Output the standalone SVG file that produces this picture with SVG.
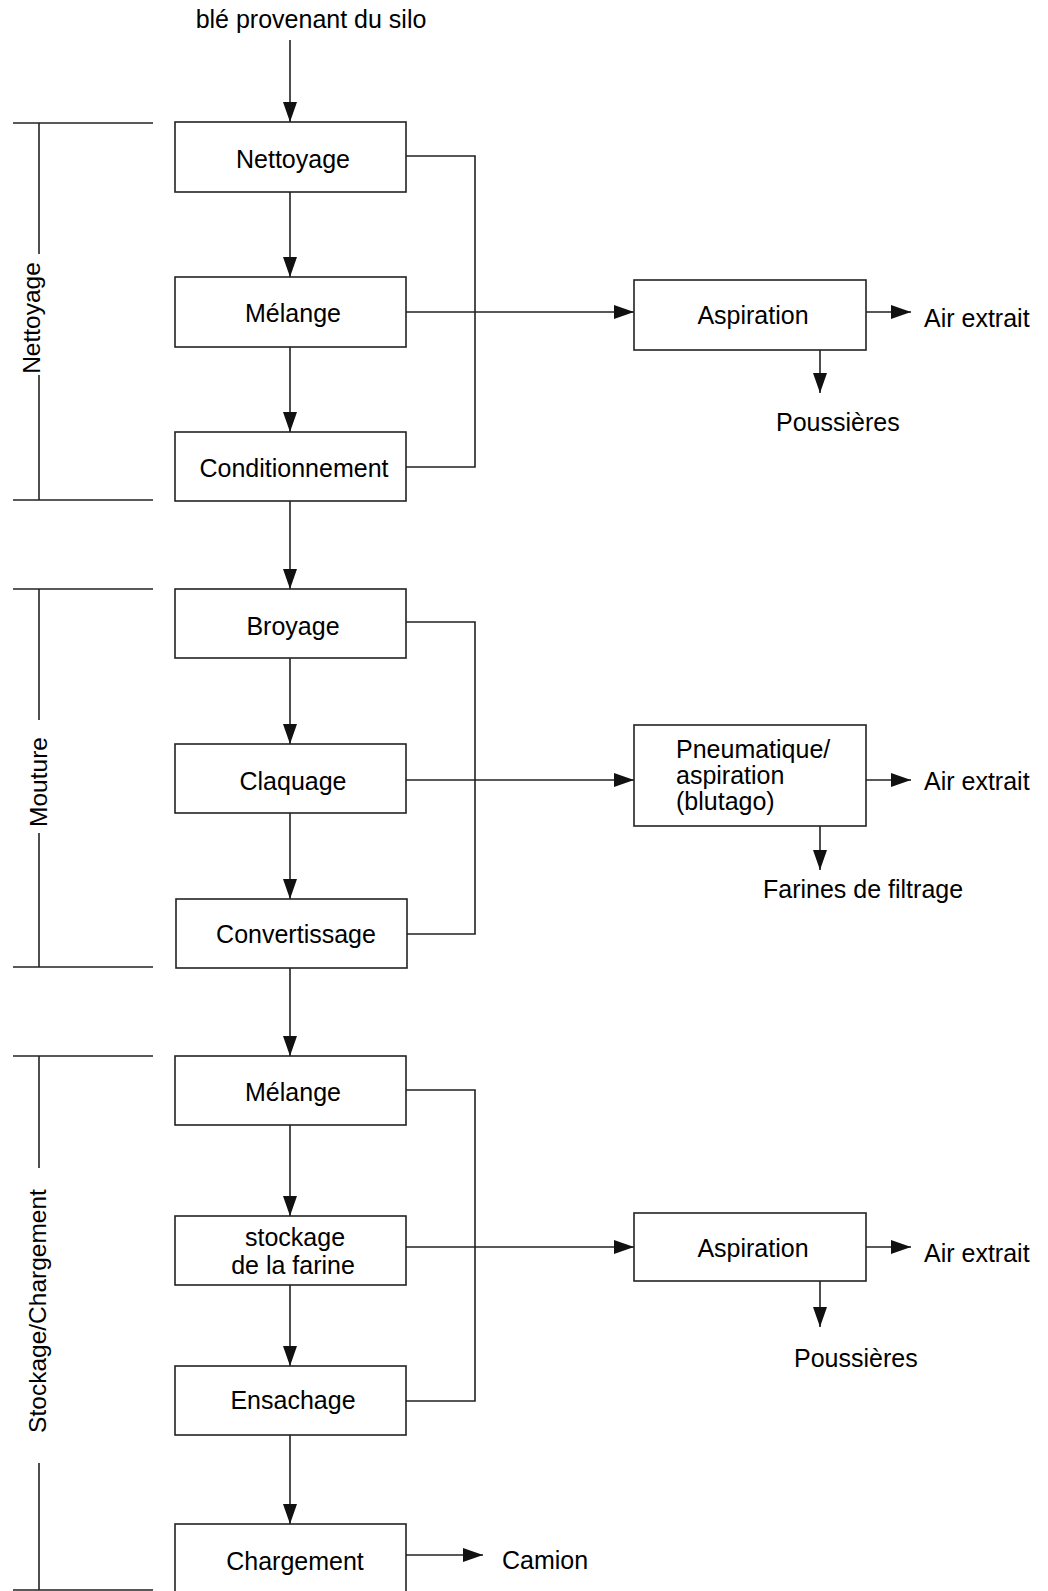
<svg xmlns="http://www.w3.org/2000/svg" width="1048" height="1591" viewBox="0 0 1048 1591">
<style>
  .box { fill: #fff; stroke: #222; stroke-width: 1.6; }
  .ln { fill: none; stroke: #222; stroke-width: 1.6; }
  .arr { fill: none; stroke: #222; stroke-width: 1.6; marker-end: url(#ah); }
  text { font-family: "Liberation Sans", Arial, sans-serif; font-size: 25px; fill: #000; }
  .c { text-anchor: middle; }
  .v { font-size: 24.5px; text-anchor: middle; }
</style>
<defs>
  <marker id="ah" markerUnits="userSpaceOnUse" markerWidth="20" markerHeight="14" refX="20" refY="7" orient="auto">
    <path d="M0,0 L20,7 L0,14 z" fill="#111"/>
  </marker>
</defs>
<rect width="1048" height="1591" fill="#fff"/>

<g id="brackets">
  <line class="ln" x1="13" y1="123" x2="153" y2="123"/>
  <line class="ln" x1="13" y1="500" x2="153" y2="500"/>
  <line class="ln" x1="39" y1="123" x2="39" y2="254"/>
  <line class="ln" x1="39" y1="375" x2="39" y2="500"/>
  <text class="v" transform="translate(40,318) rotate(-90)">Nettoyage</text>
  <line class="ln" x1="13" y1="589" x2="153" y2="589"/>
  <line class="ln" x1="13" y1="967" x2="153" y2="967"/>
  <line class="ln" x1="39" y1="589" x2="39" y2="720"/>
  <line class="ln" x1="39" y1="833" x2="39" y2="967"/>
  <text class="v" transform="translate(47,782) rotate(-90)">Mouture</text>
  <line class="ln" x1="13" y1="1056" x2="153" y2="1056"/>
  <line class="ln" x1="13" y1="1590" x2="153" y2="1590"/>
  <line class="ln" x1="39" y1="1056" x2="39" y2="1168"/>
  <line class="ln" x1="39" y1="1463" x2="39" y2="1590"/>
  <text class="v" transform="translate(46,1311) rotate(-90)">Stockage/Chargement</text>
</g>

<g id="connectors">
  <line class="arr" x1="290" y1="40" x2="290" y2="122"/>
  <line class="arr" x1="290" y1="192" x2="290" y2="277"/>
  <line class="arr" x1="290" y1="347" x2="290" y2="432"/>
  <line class="arr" x1="290" y1="501" x2="290" y2="589"/>
  <line class="arr" x1="290" y1="658" x2="290" y2="744"/>
  <line class="arr" x1="290" y1="813" x2="290" y2="899"/>
  <line class="arr" x1="290" y1="968" x2="290" y2="1056"/>
  <line class="arr" x1="290" y1="1125" x2="290" y2="1216"/>
  <line class="arr" x1="290" y1="1285" x2="290" y2="1366"/>
  <line class="arr" x1="290" y1="1435" x2="290" y2="1524"/>

  <polyline class="ln" points="406,156 475,156 475,467 406,467"/>
  <line class="arr" x1="406" y1="312" x2="634" y2="312"/>
  <polyline class="ln" points="406,622 475,622 475,934 407,934"/>
  <line class="arr" x1="406" y1="780" x2="634" y2="780"/>
  <polyline class="ln" points="406,1090 475,1090 475,1401 406,1401"/>
  <line class="arr" x1="406" y1="1247" x2="634" y2="1247"/>

  <line class="arr" x1="866" y1="312" x2="911" y2="312"/>
  <line class="arr" x1="866" y1="780" x2="911" y2="780"/>
  <line class="arr" x1="866" y1="1247" x2="911" y2="1247"/>
  <line class="arr" x1="820" y1="350" x2="820" y2="393"/>
  <line class="arr" x1="820" y1="826" x2="820" y2="870"/>
  <line class="arr" x1="820" y1="1281" x2="820" y2="1327"/>
  <line class="arr" x1="406" y1="1555" x2="483" y2="1555"/>
</g>

<g id="labels">
  <text class="c" x="311" y="28">blé provenant du silo</text>
  <text x="924" y="327">Air extrait</text>
  <text x="924" y="790">Air extrait</text>
  <text x="924" y="1262">Air extrait</text>
  <text x="776" y="431">Poussières</text>
  <text x="763" y="898">Farines de filtrage</text>
  <text x="794" y="1367">Poussières</text>
  <text x="502" y="1569">Camion</text>
</g>

<g id="n-nettoyage"><rect class="box" x="175" y="122" width="231" height="70"/><text class="c" x="293" y="168">Nettoyage</text></g>
<g id="n-melange1"><rect class="box" x="175" y="277" width="231" height="70"/><text class="c" x="293" y="322">Mélange</text></g>
<g id="n-conditionnement"><rect class="box" x="175" y="432" width="231" height="69"/><text class="c" x="294" y="477">Conditionnement</text></g>
<g id="n-broyage"><rect class="box" x="175" y="589" width="231" height="69"/><text class="c" x="293" y="635">Broyage</text></g>
<g id="n-claquage"><rect class="box" x="175" y="744" width="231" height="69"/><text class="c" x="293" y="790">Claquage</text></g>
<g id="n-convertissage"><rect class="box" x="176" y="899" width="231" height="69"/><text class="c" x="296" y="943">Convertissage</text></g>
<g id="n-melange2"><rect class="box" x="175" y="1056" width="231" height="69"/><text class="c" x="293" y="1101">Mélange</text></g>
<g id="n-stockage"><rect class="box" x="175" y="1216" width="231" height="69"/><text class="c" x="295" y="1246">stockage</text><text class="c" x="293" y="1274">de la farine</text></g>
<g id="n-ensachage"><rect class="box" x="175" y="1366" width="231" height="69"/><text class="c" x="293" y="1409">Ensachage</text></g>
<g id="n-chargement"><rect class="box" x="175" y="1524" width="231" height="69"/><text class="c" x="295" y="1570">Chargement</text></g>

<g id="n-aspiration1"><rect class="box" x="634" y="280" width="232" height="70"/><text class="c" x="753" y="324">Aspiration</text></g>
<g id="n-pneumatique"><rect class="box" x="634" y="725" width="232" height="101"/><text x="676" y="758">Pneumatique/</text><text x="676" y="784">aspiration</text><text x="676" y="810">(blutago)</text></g>
<g id="n-aspiration2"><rect class="box" x="634" y="1213" width="232" height="68"/><text class="c" x="753" y="1257">Aspiration</text></g>
</svg>
